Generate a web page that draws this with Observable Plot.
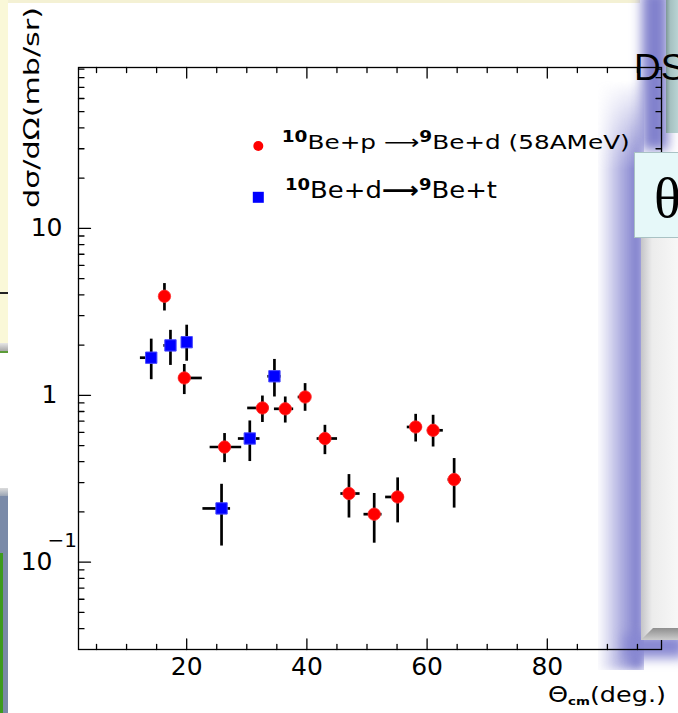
<!DOCTYPE html>
<html>
<head>
<meta charset="utf-8">
<script src="https://cdn.jsdelivr.net/npm/d3@7"></script>
<script src="https://cdn.jsdelivr.net/npm/@observablehq/plot@0.6"></script>
<style>
html,body{margin:0;padding:0;background:#fff;}
#page{position:relative;width:678px;height:713px;overflow:hidden;background:#fff;}
#chart{position:absolute;left:0;top:0;z-index:1;}
.deco{position:absolute;}
.back{z-index:0;}
.front{z-index:2;pointer-events:none;}
</style>
</head>
<body>
<div id="page">
  <div class="deco back" style="left:0;top:0;width:640px;height:3px;background:#f4f1d4"></div>
  <div class="deco back" style="left:0;top:0;width:8px;height:344px;background:#faf8d8"></div>
  <div class="deco back" style="left:0;top:343px;width:8px;height:8px;background:linear-gradient(#e6e6e6,#a8a8a8)"></div>
  <div class="deco back" style="left:0;top:351px;width:8px;height:2px;background:#5c9c38"></div>
  <div class="deco back" style="left:0;top:292px;width:8px;height:1.5px;background:#222"></div>
  <div class="deco back" style="left:0;top:488px;width:8px;height:8px;background:linear-gradient(#dcdcdc,#9aa4b4)"></div>
  <div class="deco back" style="left:0;top:496px;width:8px;height:217px;background:#7a8aa8"></div>
  <div class="deco back" style="left:0;top:553px;width:3px;height:160px;background:#3d9b1e"></div>
  <div class="deco back" style="left:598px;top:80px;width:46px;height:590px;background:linear-gradient(to right, rgba(130,130,210,0), rgba(125,125,205,0.55) 45%, #7a7acb 90%);filter:blur(5px);-webkit-mask-image:linear-gradient(to bottom, transparent 0, #000 90px);mask-image:linear-gradient(to bottom, transparent 0, #000 90px)"></div>
  <div class="deco back" style="left:642px;top:-10px;width:26px;height:160px;background:#8080cc;filter:blur(6px)"></div>
  <div class="deco back" style="left:625px;top:634px;width:60px;height:24px;background:#8888d2;filter:blur(6px)"></div>
  <div id="chart"></div>
  <svg class="deco front" width="678" height="713" style="left:0;top:0">
    <defs>
      <linearGradient id="teal" x1="0" x2="1"><stop offset="0" stop-color="#7d9797"/><stop offset="0.35" stop-color="#a6c1c1"/><stop offset="1" stop-color="#b9d3d3"/></linearGradient>
      <linearGradient id="panel" x1="0" x2="1"><stop offset="0" stop-color="#c4c4c8"/><stop offset="0.3" stop-color="#ececec"/><stop offset="1" stop-color="#f7f7f7"/></linearGradient>
      <linearGradient id="bevel" x1="0" y1="0" x2="0" y2="1"><stop offset="0" stop-color="#8e8e8e"/><stop offset="1" stop-color="#cdcdcd"/></linearGradient>
    </defs>
    <rect x="666" y="0" width="12" height="133" fill="url(#teal)"/>
    <rect x="641" y="237" width="37" height="403" fill="url(#panel)"/>
    <polygon points="653,628 678,628 678,640 641,640" fill="url(#bevel)"/>
    <rect x="634.5" y="152.5" width="50" height="85" fill="#e6f8f9" stroke="#a9c2c4"/>
    <text x="654" y="217" font-family="Liberation Serif" font-size="56">θ</text>
    <text x="634" y="80" font-family="Liberation Sans" font-size="37">DS</text>
  </svg>
</div>
<script>
// ---- data: 10Be+p -> 9Be+d (58 AMeV), red circles ----
const protonAngle      = [16.3, 19.6, 26.3, 32.6, 36.4, 39.7, 43.0, 47.0, 51.2, 55.1, 58.1, 61.0, 64.5];
const protonSigma      = [3.92, 1.27, 0.49, 0.84, 0.83, 0.977, 0.551, 0.258, 0.194, 0.246, 0.646, 0.617, 0.313];
const protonSigmaLow   = [3.20, 1.01, 0.395, 0.687, 0.682, 0.802, 0.441, 0.184, 0.130, 0.172, 0.525, 0.490, 0.211];
const protonSigmaHigh  = [4.67, 1.53, 0.59, 0.99, 0.977, 1.175, 0.661, 0.335, 0.258, 0.320, 0.769, 0.759, 0.418];
const protonAngleLow   = [16.3, 18.7, 23.9, 30.15, 34.6, 38.55, 41.7, 45.65, 49.5, 53.1, 56.7, 60.05, 63.5];
const protonAngleHigh  = [16.3, 22.6, 29.15, 33.7, 37.8, 40.7, 45.1, 48.85, 52.5, 56.2, 59.2, 62.7, 65.7];

// ---- data: 10Be+d -> 9Be+t, blue squares ----
const deuteronAngle     = [14.1, 17.3, 20.0, 25.8, 30.5, 34.6];
const deuteronSigma     = [1.68, 1.99, 2.08, 0.21, 0.551, 1.30];
const deuteronSigmaLow  = [1.24, 1.51, 1.60, 0.125, 0.401, 0.977];
const deuteronSigmaHigh = [2.17, 2.45, 2.63, 0.293, 0.702, 1.64];
const deuteronAngleLow  = [12.3, 16.2, 19.5, 22.7, 28.6, 33.5];
const deuteronAngleHigh = [14.9, 18.2, 20.6, 27.3, 32.2, 35.7];

// ---- axes ----
const xDomain = [2, 99];
const yDomain = [0.03, 92];
const xMajorTicks = [20, 40, 60, 80];
const xTickLabels = ["20", "40", "60", "80"];
const xMinorTicks = [5, 10, 15, 25, 30, 35, 45, 50, 55, 65, 70, 75, 85, 90, 95];
const yMajorTicks = [0.1, 1, 10];
const yTickLabels = ["10", "1", "10"];
const yTickExponents = ["−1", "", ""];
const yMinorTicks = [0.04, 0.05, 0.06, 0.07, 0.08, 0.09,
                     0.2, 0.3, 0.4, 0.5, 0.6, 0.7, 0.8, 0.9,
                     2, 3, 4, 5, 6, 7, 8, 9,
                     20, 30, 40, 50, 60, 70, 80, 90];

const xTitle = ["Θ", "cm", "(deg.)"];
const yTitle = "dσ/dΩ(mb/sr)";
const legendLine1 = ["10", "Be+p ", "⟶", "9", "Be+d (58AMeV)"];
const legendLine2 = ["10", "Be+d", "⟶", "9", "Be+t"];

const protons = protonAngle.map((a, i) => ({angle: a, sigma: protonSigma[i], lo: protonSigmaLow[i], hi: protonSigmaHigh[i], alo: protonAngleLow[i], ahi: protonAngleHigh[i]}));
const deuterons = deuteronAngle.map((a, i) => ({angle: a, sigma: deuteronSigma[i], lo: deuteronSigmaLow[i], hi: deuteronSigmaHigh[i], alo: deuteronAngleLow[i], ahi: deuteronAngleHigh[i]}));

const tickShape = {draw(context, l) { context.moveTo(0, 0); context.lineTo(0, -l); }};
const FONT = "DejaVu Sans";
const tickStyle = {anchor: "start", shape: tickShape, stroke: "black", strokeWidth: 1.3, fill: "none"};

function xTicks(values, len) {
  return [
    Plot.vector(values, {x: d => d, y: () => yDomain[0], length: len, rotate: 0, ...tickStyle}),
    Plot.vector(values, {x: d => d, y: () => yDomain[1], length: len, rotate: 180, ...tickStyle})
  ];
}
function yTicks(values, len) {
  return [
    Plot.vector(values, {x: () => xDomain[0], y: d => d, length: len, rotate: 90, ...tickStyle}),
    Plot.vector(values, {x: () => xDomain[1], y: d => d, length: len, rotate: -90, ...tickStyle})
  ];
}

const yLabelDx = [-26, -21, -16];

const svg = Plot.plot({
  width: 678,
  height: 713,
  marginLeft: 78,
  marginRight: 17,
  marginTop: 67,
  marginBottom: 64,
  style: {background: "transparent", overflow: "visible"},
  x: {domain: xDomain, axis: null},
  y: {type: "log", domain: yDomain, axis: null},
  marks: [
    Plot.frame({stroke: "black", strokeWidth: 1.3}),
    ...xTicks(xMajorTicks, 10.5),
    ...xTicks(xMinorTicks, 5),
    ...yTicks(yMajorTicks, 12),
    ...yTicks(yMinorTicks, 5.5),
    // error bars
    Plot.ruleX(protons, {x: "angle", y1: "lo", y2: "hi", stroke: "black", strokeWidth: 2.7}),
    Plot.ruleY(protons, {y: "sigma", x1: "alo", x2: "ahi", stroke: "black", strokeWidth: 2.7}),
    Plot.ruleX(deuterons, {x: "angle", y1: "lo", y2: "hi", stroke: "black", strokeWidth: 2.7}),
    Plot.ruleY(deuterons, {y: "sigma", x1: "alo", x2: "ahi", stroke: "black", strokeWidth: 2.7}),
    // markers
    Plot.dot(protons, {x: "angle", y: "sigma", r: 6.2, fill: "#ff0000", stroke: "#ff3030", strokeWidth: 0.8}),
    Plot.dot(deuterons, {x: "angle", y: "sigma", r: 6.4, symbol: "square", fill: "#0000ff", stroke: "#4a4aff", strokeWidth: 1}),
    // x tick labels
    Plot.text(xMajorTicks, {x: d => d, y: () => yDomain[0], text: (d, i) => xTickLabels[i], dy: 17, fontSize: 25, fontFamily: FONT, fill: "black"}),
    // y tick labels
    ...yMajorTicks.map((v, i) => Plot.text([v], {x: () => xDomain[0], y: d => d, text: () => yTickLabels[i], textAnchor: "end", dx: yLabelDx[i], fontSize: 25, fontFamily: FONT, fill: "black"})),
    ...yMajorTicks.filter((v, i) => yTickExponents[i]).map((v) => Plot.text([v], {x: () => xDomain[0], y: d => d, text: () => yTickExponents[yMajorTicks.indexOf(v)], textAnchor: "start", dx: -31, dy: -21.5, fontSize: 20, fontFamily: FONT, fill: "black"}))
  ]
});

// axis titles and legend
const g = d3.select(svg).append("g")
  .attr("font-family", FONT).attr("fill", "black").attr("text-anchor", "start");

g.append("text")
  .attr("transform", "translate(38.5,208) rotate(-90)")
  .attr("font-size", 22)
  .attr("textLength", 201)
  .attr("lengthAdjust", "spacingAndGlyphs")
  .text(yTitle);

const xt = g.append("text").attr("x", 548).attr("y", 701.5).attr("font-size", 21)
  .attr("textLength", 118).attr("lengthAdjust", "spacingAndGlyphs");
xt.append("tspan").text(xTitle[0]);
xt.append("tspan").attr("font-size", 11).attr("font-weight", "bold").attr("dy", 3).text(xTitle[1]);
xt.append("tspan").attr("dy", -3).text(xTitle[2]);

// legend swatches
g.append("circle").attr("cx", 258.3).attr("cy", 146).attr("r", 5).attr("fill", "#ff0000");
g.append("rect").attr("x", 252.8).attr("y", 191.8).attr("width", 11).attr("height", 11).attr("fill", "#0000ff");

function legendText(parts, x, y, size, supSize, len, boldArrow) {
  const t = g.append("text").attr("x", x).attr("y", y).attr("font-size", size)
    .attr("textLength", len).attr("lengthAdjust", "spacingAndGlyphs");
  t.append("tspan").attr("font-size", supSize).attr("font-weight", "bold").attr("dy", -size * 0.38).text(parts[0]);
  t.append("tspan").attr("dy", size * 0.38).text(parts[1]);
  t.append("tspan").attr("font-weight", boldArrow ? "bold" : "normal").text(parts[2]);
  t.append("tspan").attr("font-size", supSize).attr("font-weight", "bold").attr("dy", -size * 0.38).text(parts[3]);
  t.append("tspan").attr("dy", size * 0.38).text(parts[4]);
}
legendText(legendLine1, 281.7, 149.3, 20, 15, 348, false);
legendText(legendLine2, 285, 198.3, 23, 16, 212, true);

document.getElementById("chart").appendChild(svg);
</script>
</body>
</html>
